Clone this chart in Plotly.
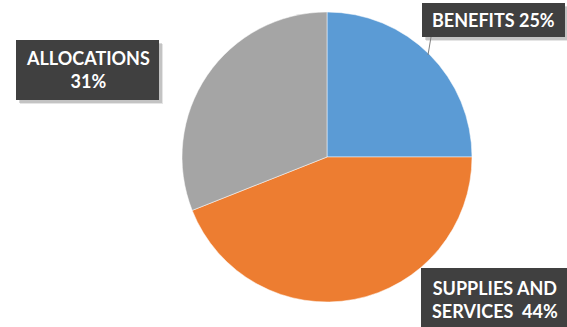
import plotly.graph_objects as go

labels = ["BENEFITS", "SUPPLIES AND SERVICES", "ALLOCATIONS"]
values = [25, 44, 31]
colors = ["#5B9BD5", "#ED7D31", "#A5A5A5"]

W, H = 567, 327
cx, cy, r = 327, 157, 145

fig = go.Figure(go.Pie(
    labels=labels, values=values, sort=False, direction="clockwise", rotation=0,
    marker=dict(colors=colors, line=dict(color="white", width=0.5)),
    textinfo="none", hoverinfo="label+percent", showlegend=False,
    domain=dict(x=[(cx - r) / W, (cx + r) / W], y=[1 - (cy + r) / H, 1 - (cy - r) / H]),
))

def px(x):
    return x / W

def py(y):
    return 1 - y / H

boxes = [
    # (x0, y0, x1, y1, text)
    (422, 3, 565, 37, f"<b>{labels[0]} {values[0]}%</b>"),
    (16, 40, 159, 100, f"<b>{labels[2]}<br>{values[2]}%</b>"),
    (421, 268, 569, 330, f"<b>SUPPLIES AND<br>SERVICES  {values[1]}%</b>"),
]

shapes = []
annotations = []
for x0, y0, x1, y1, txt in boxes:
    # soft shadow
    for d, a in [(4, 0.10), (3, 0.15)]:
        shapes.append(dict(type="rect", xref="paper", yref="paper",
                           x0=px(x0 + d), x1=px(x1 + d), y0=py(y1 + d), y1=py(y0 + d),
                           fillcolor=f"rgba(0,0,0,{a})", line=dict(width=0), layer="above"))
    shapes.append(dict(type="rect", xref="paper", yref="paper",
                       x0=px(x0), x1=px(x1), y0=py(y1), y1=py(y0),
                       fillcolor="#404040", line=dict(width=0), layer="above"))
    annotations.append(dict(xref="paper", yref="paper", x=px((x0 + x1) / 2), y=py((y0 + y1) / 2),
                            text=txt, showarrow=False, xanchor="center", yanchor="middle",
                            font=dict(family="Lato", size=18, color="white"),
                            align="center"))

# leader line for BENEFITS
shapes.append(dict(type="line", xref="paper", yref="paper",
                   x0=px(431), y0=py(37), x1=px(428), y1=py(55),
                   line=dict(color="#7F7F7F", width=1), layer="above"))

fig.update_layout(
    width=W, height=H, margin=dict(l=0, r=0, t=0, b=0),
    paper_bgcolor="white", plot_bgcolor="white",
    shapes=shapes, annotations=annotations,
)

fig.write_html("out.html")
